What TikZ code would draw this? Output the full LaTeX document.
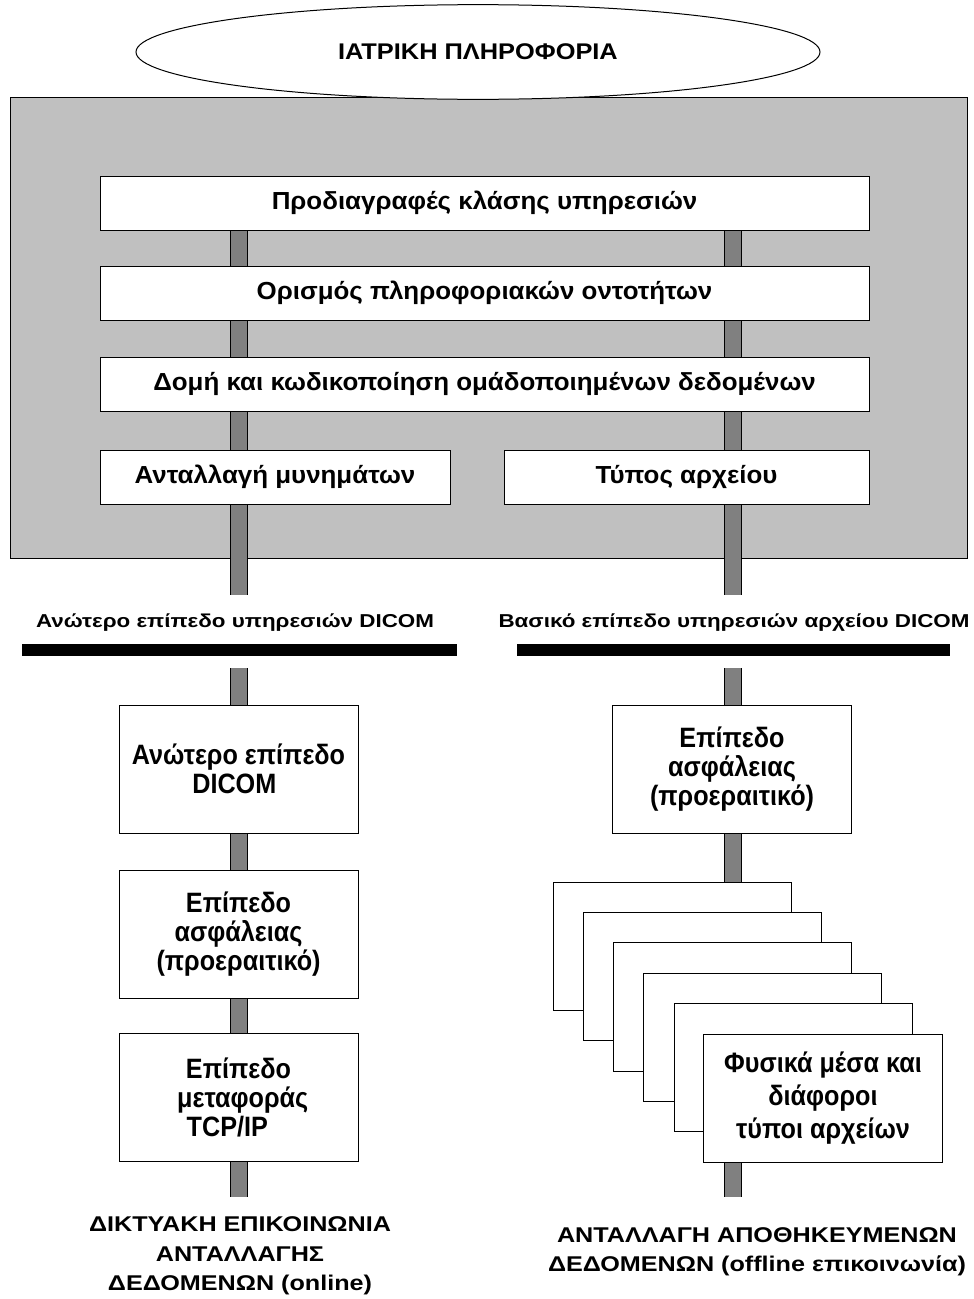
\documentclass[tikz,border=0pt]{standalone}
\usepackage{fontspec}
\setmainfont{Liberation Sans}
\newfontfamily\ftitle[FakeStretch=1.12]{Liberation Sans}
\newfontfamily\ftop[FakeStretch=1.05]{Liberation Sans}
\newfontfamily\flbl[FakeStretch=1.2]{Liberation Sans}
\newfontfamily\fbot[FakeStretch=1.18]{Liberation Sans}
\newfontfamily\flow[FakeStretch=0.90]{Liberation Sans Bold}
\usetikzlibrary{shapes.geometric,fit}
\definecolor{panelgray}{RGB}{192,192,192}
\definecolor{bargray}{RGB}{128,128,128}
\begin{document}
\begin{tikzpicture}[x=0.75pt,y=-0.75pt,
  rect/.style={draw=black, line width=0.75pt, fill=white, inner sep=0pt, align=center},
  topbox/.style={rect, minimum height=40.5pt, font=\ftop\fontsize{18.5}{22}\selectfont\bfseries},
  wide/.style={minimum width=576.75pt},
  lowbox/.style={rect, minimum width=179.25pt, minimum height=96pt, font=\flow\fontsize{21}{22}\selectfont},
  card/.style={rect, fit={#1}},
  bar/.style={draw=black, line width=0.6pt, double=bargray, double distance=12pt},
  blackbar/.style={fill=black, inner sep=0pt},
  lbl/.style={font=\flbl\fontsize{14}{17}\selectfont\bfseries},
  bot/.style={font=\fbot\fontsize{16}{22}\selectfont\bfseries, align=center}
]
\useasboundingbox (0,0) rectangle (974,1299);
% container
\node[draw=black, line width=0.75pt, fill=panelgray, inner sep=0pt, fit={(10,97) (967,558)}] (panel) {};
\node[ellipse, draw=black, line width=0.75pt, fill=white, inner sep=0pt, minimum width=513pt, minimum height=71pt, font=\ftitle\fontsize{17}{20}\selectfont\bfseries] (title) at (478,52) {ΙΑΤΡΙΚΗ ΠΛΗΡΟΦΟΡΙΑ};
% axes
\coordinate (L) at (239,0);
\coordinate (R) at (733,0);
% top boxes
\node[topbox, wide] (b1) at (484.5,203) {Προδιαγραφές κλάσης υπηρεσιών};
\node[topbox, wide] (b2) at (484.5,293) {Ορισμός πληροφοριακών οντοτήτων};
\node[topbox, wide] (b3) at (484.5,384) {Δομή και κωδικοποίηση ομάδοποιημένων δεδομένων};
\node[topbox, minimum width=262.5pt] (b4) at (275,477) {Ανταλλαγή μυνημάτων};
\node[topbox, minimum width=273.75pt] (b5) at (686.5,477) {Τύπος αρχείου};
% level labels and black bars
\node[lbl] (lblL) at (235,623) {Ανώτερο επίπεδο υπηρεσιών DICOM};
\node[lbl] (lblR) at (734,623) {Βασικό επίπεδο υπηρεσιών αρχείου DICOM};
\node[blackbar, fit={(22,644) (457,656)}] (hbL) {};
\node[blackbar, fit={(517,644) (950,656)}] (hbR) {};
\coordinate (Lend1) at (239,595);
\coordinate (Lstart2) at (239,668);
\coordinate (Rend1) at (733,595);
\coordinate (Rstart2) at (733,668);
\coordinate (Lend2) at (239,1197);
\coordinate (Rend2) at (733,1197);
% left column
\node[lowbox] (l1) at (238.5,769) {Ανώτερο επίπεδο\\DICOM\hspace*{0.3em}};
\node[lowbox] (l2) at (238.5,934) {Επίπεδο\\ασφάλειας\\(προεραιτικό)};
\node[lowbox] (l3) at (238.5,1097.5) {Επίπεδο\\\hspace*{0.3em}μεταφοράς\\TCP/IP\hspace*{0.8em}};
% right column
\node[lowbox] (r1) at (732,769) {Επίπεδο\\ασφάλειας\\(προεραιτικό)};
\node[card={(553,882) (791,1010)}] (c1) {};
\node[card={(583,912) (821,1040)}] (c2) {};
\node[card={(613,942) (851,1071)}] (c3) {};
\node[card={(643,973) (881,1101)}] (c4) {};
\node[card={(674,1003) (912,1131)}] (c5) {};
\node[lowbox, font=\flow\fontsize{21}{25}\selectfont] (c6) at (823,1098) {Φυσικά μέσα και\\διάφοροι\\τύποι αρχείων};
% bottom texts
\node[bot] (botL) at (240,1256) {ΔΙΚΤΥΑΚΗ ΕΠΙΚΟΙΝΩΝΙΑ\\ΑΝΤΑΛΛΑΓΗΣ\\ΔΕΔΟΜΕΝΩΝ (online)};
\node[bot] (botR) at (757,1252) {ΑΝΤΑΛΛΑΓΗ ΑΠΟΘΗΚΕΥΜΕΝΩΝ\\ΔΕΔΟΜΕΝΩΝ (offline επικοινωνία)};
% bars, left
\draw[bar] (b1.south -| L) -- (b2.north -| L);
\draw[bar] (b2.south -| L) -- (b3.north -| L);
\draw[bar] (b3.south -| L) -- (b4.north -| L);
\draw[bar] (b4.south -| L) -- (Lend1);
\draw[bar] (Lstart2) -- (l1.north -| L);
\draw[bar] (l1.south -| L) -- (l2.north -| L);
\draw[bar] (l2.south -| L) -- (l3.north -| L);
\draw[bar] (l3.south -| L) -- (Lend2);
% bars, right
\draw[bar] (b1.south -| R) -- (b2.north -| R);
\draw[bar] (b2.south -| R) -- (b3.north -| R);
\draw[bar] (b3.south -| R) -- (b5.north -| R);
\draw[bar] (b5.south -| R) -- (Rend1);
\draw[bar] (Rstart2) -- (r1.north -| R);
\draw[bar] (r1.south -| R) -- (c1.north -| R);
\draw[bar] (c6.south -| R) -- (Rend2);
\end{tikzpicture}
\end{document}
